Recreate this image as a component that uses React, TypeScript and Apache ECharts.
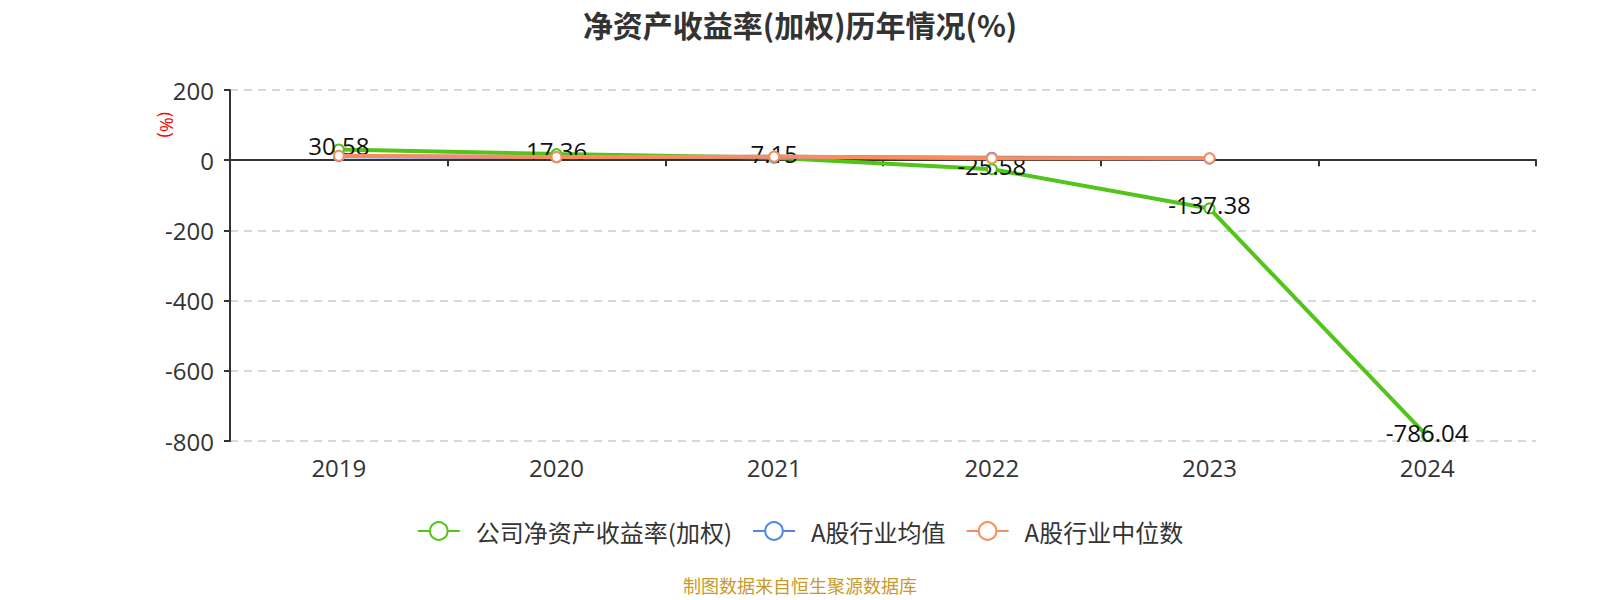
import React, { useEffect, useRef } from "react";
import * as echarts from "echarts";

const categories = ["2019", "2020", "2021", "2022", "2023", "2024"];
const companyRoe = [30.58, 17.36, 7.15, -25.58, -137.38, -786.04];
const industryMean = [11.5, 8.5, 9.6, 7.0, 4.5, null];
const industryMedian = [12.5, 9.0, 10.2, 5.5, 5.6, null];
const yTicks = { min: -800, max: 200, interval: 200 };

const seriesNames = ["公司净资产收益率(加权)", "A股行业均值", "A股行业中位数"];
const colors = ["#52c41a", "#5087ec", "#f98e5c"];

export default function App() {
  const ref = useRef<HTMLDivElement>(null);
  useEffect(() => {
    if (!ref.current) return;
    const chart = echarts.init(ref.current, undefined, { renderer: "svg" });
    const numFont = "'Open Sans', 'Noto Sans', sans-serif";
    const cjkFont = "'Noto Sans CJK SC', sans-serif";
    chart.setOption({
      animation: false,
      backgroundColor: "#ffffff",
      title: {
        text: "净资产收益率(加权)历年情况(%)",
        left: "center",
        top: 4,
        textStyle: { fontSize: 30, fontWeight: "bold", color: "#333", fontFamily: cjkFont },
      },
      grid: { left: 230, right: 64, top: 90, bottom: 159 },
      legend: {
        data: seriesNames,
        left: "center",
        top: 514,
        itemWidth: 42,
        itemHeight: 22,
        itemGap: 20,
        textStyle: { fontSize: 24, color: "#333", fontFamily: cjkFont, padding: [0, 0, 0, 11] },
      },
      graphic: [
        {
          type: "text",
          x: 176,
          y: 112,
          rotation: -Math.PI / 2,
          style: { text: "(%)", fill: "#ff0000", fontSize: 18, fontFamily: numFont },
        },
        {
          type: "text",
          x: 800,
          y: 585,
          style: {
            text: "制图数据来自恒生聚源数据库",
            fill: "#c89a2c",
            fontSize: 18,
            fontFamily: cjkFont,
            align: "center",
            verticalAlign: "middle",
          },
        },
      ],
      xAxis: [
        {
          type: "category",
          data: categories,
          position: "bottom",
          axisLine: { show: false, onZero: false },
          axisTick: { show: false },
          axisLabel: { fontSize: 24, color: "#333", margin: 14, fontFamily: numFont },
          splitLine: { show: false },
        },
        {
          type: "category",
          data: categories,
          position: "bottom",
          axisLine: { show: true, onZero: true, lineStyle: { color: "#333", width: 2 } },
          axisTick: { show: true, length: 6, lineStyle: { color: "#333", width: 2 } },
          axisLabel: { show: false },
          splitLine: { show: false },
        },
      ],
      yAxis: {
        type: "value",
        min: yTicks.min,
        max: yTicks.max,
        interval: yTicks.interval,
        axisLine: { show: true, lineStyle: { color: "#333", width: 2 } },
        axisTick: { show: true, length: 6, lineStyle: { color: "#333", width: 2 } },
        axisLabel: { fontSize: 24, color: "#333", margin: 16, fontFamily: numFont },
        splitLine: { show: true, lineStyle: { type: [8, 6], color: "#cccccc", width: 1.5 } },
      },
      series: [
        {
          name: seriesNames[0],
          type: "line",
          data: companyRoe,
          xAxisIndex: 0,
          color: colors[0],
          lineStyle: { width: 4, color: colors[0] },
          symbol: "emptyCircle",
          symbolSize: 10,
          z: 3,
          label: {
            show: true,
            position: "top",
            distance: -14,
            fontSize: 24,
            color: "#111",
            fontFamily: numFont,
            formatter: (p: any) => String(p.value),
          },
        },
        {
          name: seriesNames[1],
          type: "line",
          data: industryMean,
          xAxisIndex: 0,
          color: colors[1],
          lineStyle: { width: 4, color: colors[1] },
          symbol: "emptyCircle",
          symbolSize: 10,
          z: 4,
        },
        {
          name: seriesNames[2],
          type: "line",
          data: industryMedian,
          xAxisIndex: 0,
          color: colors[2],
          lineStyle: { width: 4, color: colors[2] },
          symbol: "emptyCircle",
          symbolSize: 10,
          z: 5,
        },
      ],
    });
    return () => chart.dispose();
  }, []);
  return (
    <div
      ref={ref}
      style={{ position: "fixed", left: 0, top: 0, width: 1600, height: 600 }}
    />
  );
}
